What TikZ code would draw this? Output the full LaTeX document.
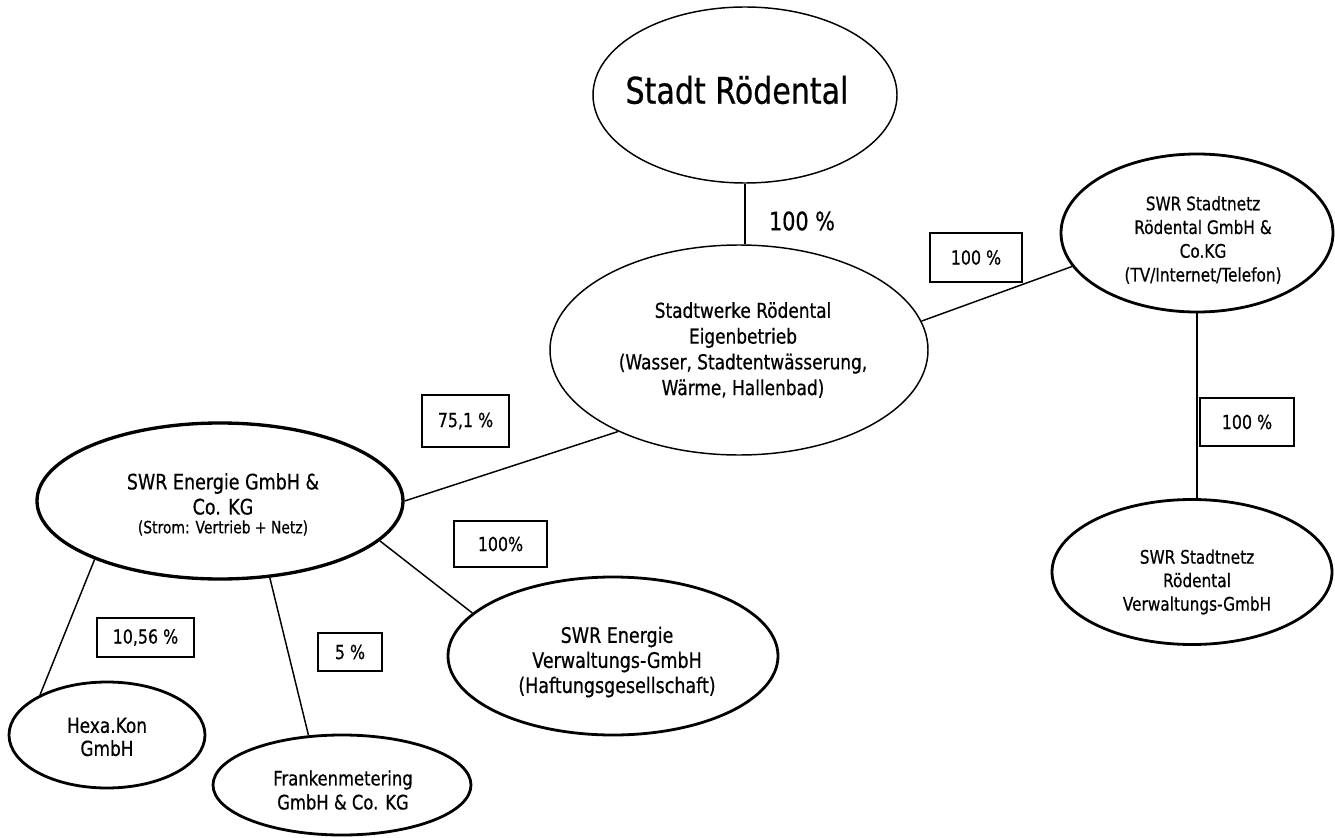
\documentclass[tikz,border=0pt]{standalone}
\usepackage{fontspec}
\setmainfont{DejaVu Sans}[FakeStretch=0.82,FakeBold=0.6]
\usetikzlibrary{shapes.geometric}
\begin{document}
\begin{tikzpicture}[x=0.75pt,y=-0.75pt,
  ell/.style={ellipse,draw,line width=2.1pt,inner sep=0pt},
  thinell/.style={ellipse,draw,line width=1.1pt,inner sep=0pt},
  txt/.style={align=center,inner sep=0pt},
  pct/.style={draw,line width=2.2pt,inner sep=0pt,font=\fontsize{14.5}{17}\selectfont},
  link/.style={line width=1.1pt}]
\useasboundingbox (0,0) rectangle (1335,838);
% ellipses
\node[thinell,minimum width=228pt,minimum height=132pt] (A) at (745,95) {};
\node[thinell,minimum width=283.5pt,minimum height=157.5pt] (B) at (739,350) {};
\node[ell,minimum width=204pt,minimum height=118.5pt] (C) at (1197,233) {};
\node[ell,minimum width=210pt,minimum height=108.75pt] (D) at (1192,572) {};
\node[ell,line width=2.5pt,minimum width=274.5pt,minimum height=117pt] (E) at (220,501) {};
\node[ell,minimum width=247.5pt,minimum height=118.5pt] (F) at (613,656) {};
\node[ell,minimum width=147pt,minimum height=79.5pt] (G) at (107,735) {};
\node[ell,minimum width=193.5pt,minimum height=75pt] (H) at (342,785) {};
% texts
\node[txt,font=\fontsize{27.5}{33}\selectfont] (At) at (737,90) {Stadt Rödental};
\node[txt,font=\fontsize{15.5}{19.3}\selectfont] (Bt) at (743,350) {Stadtwerke Rödental\\Eigenbetrieb\\(Wasser, Stadtentwässerung,\\Wärme, Hallenbad)};
\node[txt,font=\fontsize{14}{17.8}\selectfont] (Ct) at (1203,240) {SWR Stadtnetz\\Rödental GmbH \&\\Co.KG\\(TV/Internet/Telefon)};
\node[txt,font=\fontsize{14}{17.6}\selectfont] (Dt) at (1197,582) {SWR Stadtnetz\\Rödental\\Verwaltungs-GmbH};
\node[txt,font=\fontsize{16}{18.8}\selectfont] (Et) at (223,494) {SWR Energie GmbH \&\\Co. KG};
\node[txt,font=\fontsize{12.7}{15}\selectfont] (Et2) at (223,528) {(Strom: Vertrieb + Netz)};
\node[txt,font=\fontsize{16}{18.8}\selectfont] (Ft) at (617,662) {SWR Energie\\Verwaltungs-GmbH\\(Haftungsgesellschaft)};
\node[txt,font=\fontsize{15.5}{17.3}\selectfont] (Gt) at (107,737) {Hexa.Kon\\GmbH};
\node[txt,font=\fontsize{15}{18}\selectfont] (Ht) at (343,790) {Frankenmetering\\GmbH \& Co. KG};
% connectors
\draw[link] (A.south) -- (A.south |- B.north);
\draw[link] (B.9.7) -- (C.195.8);
\draw[link] (C.south) -- (C.south |- D.north);
\draw[link] (E.east) -- (B.214.6);
\draw[link] (E.346) -- (F.163.8);
\draw[link] (E.205.6) -- (G.149.2);
\draw[link] (E.303.9) -- (H.124.2);
% labels
\node[txt,font=\fontsize{19}{22}\selectfont] (l0) at (802,221) {100 \%};
\node[pct,minimum width=69pt,minimum height=36.75pt] (l1) at (976,257.5) {100 \%};
\node[pct,minimum width=70.5pt,minimum height=36pt] (l2) at (1247,422) {100 \%};
\node[pct,minimum width=65.25pt,minimum height=39pt] (l3) at (465.5,421) {75,1 \%};
\node[pct,minimum width=69.75pt,minimum height=34.5pt] (l4) at (500.5,544) {100\%};
\node[pct,minimum width=72.75pt,minimum height=29.25pt] (l5) at (145.5,637.5) {10,56 \%};
\node[pct,minimum width=48pt,minimum height=28.5pt] (l6) at (350,652) {5 \%};
\end{tikzpicture}
\end{document}
